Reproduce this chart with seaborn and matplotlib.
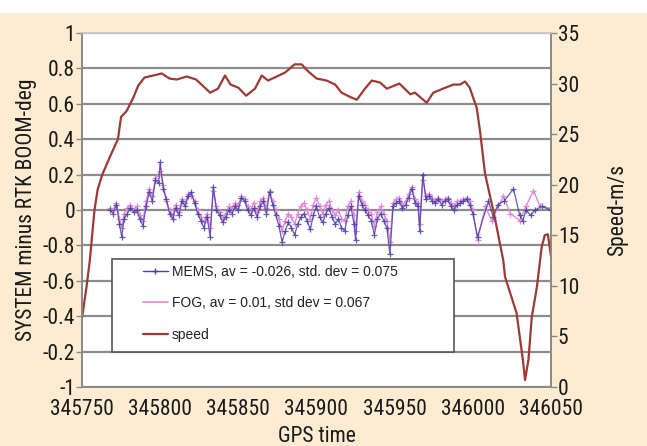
import numpy as np
import pandas as pd
import matplotlib
matplotlib.use("Agg")
import matplotlib.pyplot as plt
import seaborn as sns
from matplotlib import font_manager as fm
from matplotlib.lines import Line2D
from matplotlib.patches import Rectangle

# ---------------- data ----------------
speed_t = [345750, 345753, 345755, 345758, 345760, 345763, 345768, 345773, 345775, 345778.6,
           345782.8, 345786, 345790, 345795.6, 345801, 345806, 345810.6, 345817, 345823, 345832,
           345837, 345841.5, 345845, 345850, 345855, 345860.7, 345865, 345869, 345874.6, 345880,
           345886, 345890.6, 345894, 345900, 345906.5, 345912, 345916, 345922.6, 345925.8, 345931,
           345935.4, 345940.7, 345945, 345953, 345960, 345963, 345970.5, 345974.7, 345981, 345987.5,
           345991.8, 345995, 345998, 346002.5, 346004.6, 346007.8, 346014, 346019.5, 346020.6, 346028,
           346032, 346033.4, 346035.6, 346037.7, 346041, 346044, 346046, 346048, 346050]
speed_v = [6.8, 10.0, 12.5, 17.5, 19.5, 21.0, 22.8, 24.5, 26.7, 27.3,
           28.6, 29.8, 30.6, 30.8, 31.0, 30.5, 30.4, 30.7, 30.4, 29.1,
           29.5, 30.8, 29.9, 29.6, 28.8, 29.5, 30.8, 30.3, 30.7, 31.1,
           31.9, 31.9, 31.3, 30.5, 30.3, 29.9, 29.1, 28.6, 28.4, 29.5,
           30.3, 30.1, 29.5, 30.0, 28.95, 29.1, 28.1, 29.1, 29.5, 29.9,
           29.9, 30.2, 29.6, 27.6, 25.3, 21.1, 16.8, 12.5, 10.9, 7.3,
           2.7, 0.7, 2.7, 6.9, 9.9, 13.8, 15.0, 15.1, 12.9]

mems_t = [345768, 345770, 345772, 345774, 345775.4, 345777, 345779, 345781, 345783, 345785,
          345787, 345789, 345791, 345793, 345795, 345797, 345799, 345800, 345802, 345804,
          345806, 345808, 345810, 345812, 345814, 345816, 345818, 345820, 345822, 345824,
          345826, 345828, 345830, 345832, 345834, 345836, 345838, 345840, 345842, 345844,
          345846, 345848, 345850, 345852, 345854, 345856, 345858, 345860, 345862, 345864,
          345866, 345868, 345870, 345872, 345874, 345876, 345878, 345880, 345882, 345884,
          345886, 345888, 345890, 345892, 345894, 345896, 345898, 345900, 345902, 345904,
          345906, 345908, 345910, 345912, 345914, 345916, 345918, 345920, 345922, 345924,
          345925, 345927, 345929, 345931, 345933, 345935, 345937, 345939, 345941, 345943,
          345945, 345947, 345949, 345951, 345953, 345955, 345957, 345959, 345961, 345963,
          345965, 345966, 345968, 345970, 345972, 345974, 345976, 345978, 345980, 345982,
          345984, 345986, 345988, 345990, 345992, 345994, 345996, 345998, 346000, 346003,
          346010, 346013, 346016, 346020, 346026, 346030, 346032, 346034, 346037, 346040,
          346044, 346050]
mems_v = [0.0, -0.02, 0.03, -0.08, -0.15, -0.05, -0.02, 0.01, -0.01, 0.0,
          -0.05, -0.09, 0.02, 0.1, 0.05, 0.17, 0.15, 0.27, 0.12, 0.06,
          -0.02, -0.05, 0.01, -0.03, 0.05, 0.02, 0.08, 0.1, 0.04, -0.02,
          -0.06, -0.1, -0.04, -0.15, 0.13, 0.0, -0.03, -0.07, -0.04, 0.0,
          -0.02, 0.02, 0.0, 0.07, 0.05, 0.0, -0.03, 0.01, -0.04, 0.02,
          0.05, -0.02, 0.1, 0.03, -0.03, -0.09, -0.18, -0.12, -0.07, -0.1,
          -0.14, -0.08, -0.04, -0.02, -0.06, -0.11, -0.03, 0.02, -0.04, -0.07,
          -0.02, 0.01, -0.04, -0.08, -0.05, -0.1, -0.12, -0.03, 0.02, -0.08,
          -0.17, 0.08, 0.03, 0.0, -0.03, -0.06, -0.14, -0.05, -0.02, -0.06,
          -0.1, -0.25, 0.02, 0.04, 0.05, 0.01, 0.03, 0.07, 0.12, 0.04,
          0.02, -0.12, 0.2, 0.06, 0.08, 0.05, 0.04, 0.06, 0.03, 0.05,
          0.06, 0.02, 0.0, 0.03, 0.04, 0.05, 0.06, 0.03, -0.02, -0.15,
          0.05, -0.04, 0.03, 0.05, 0.12, -0.03, -0.06, 0.0, -0.03, 0.0,
          0.02, 0.0]

fog_t = [345768, 345770, 345772, 345774, 345775.4, 345777, 345779, 345781, 345783, 345785,
         345787, 345789, 345791, 345793, 345795, 345797, 345799, 345800, 345802, 345804,
         345806, 345808, 345810, 345812, 345814, 345816, 345818, 345820, 345822, 345824,
         345826, 345828, 345830, 345832, 345834, 345836, 345838, 345840, 345842, 345844,
         345846, 345848, 345850, 345852, 345854, 345856, 345858, 345860, 345862, 345864,
         345866, 345868, 345870, 345872, 345874, 345876, 345878, 345880, 345882, 345884,
         345886, 345888, 345890, 345892, 345894, 345896, 345898, 345900, 345902, 345904,
         345906, 345908, 345910, 345912, 345914, 345916, 345918, 345920, 345922, 345924,
         345925, 345927, 345929, 345931, 345933, 345935, 345937, 345939, 345941, 345943,
         345945, 345947, 345949, 345951, 345953, 345955, 345957, 345959, 345961, 345963,
         345965, 345966, 345968, 345970, 345972, 345974, 345976, 345978, 345980, 345982,
         345984, 345986, 345988, 345990, 345992, 345994, 345996, 345998, 346000, 346003,
         346008, 346012, 346019.6, 346024, 346030, 346034, 346038.8, 346043, 346050]
fog_v = [0.01, 0.0, 0.04, -0.05, -0.1, -0.02, 0.01, 0.03, 0.0, 0.02,
         -0.03, -0.06, 0.05, 0.12, 0.08, 0.18, 0.2, 0.22, 0.14, 0.05,
         0.0, -0.03, 0.03, -0.01, 0.06, 0.04, 0.09, 0.08, 0.05, 0.0,
         -0.04, -0.07, -0.02, -0.1, 0.11, 0.02, -0.01, -0.05, -0.02, 0.02,
         0.01, 0.04, 0.03, 0.08, 0.06, 0.02, 0.0, 0.04, -0.01, 0.05,
         0.07, 0.01, 0.11, 0.05, 0.0, -0.05, -0.12, -0.06, -0.02, -0.04,
         -0.08, -0.02, 0.02, 0.04, 0.0, -0.05, 0.03, 0.07, 0.02, -0.02,
         0.03, 0.05, 0.0, -0.03, 0.0, -0.05, -0.06, 0.02, 0.05, -0.03,
         -0.12, 0.1, 0.05, 0.03, 0.0, -0.02, -0.09, -0.01, 0.02, -0.02,
         -0.06, -0.18, 0.04, 0.06, 0.07, 0.03, 0.05, 0.09, 0.13, 0.06,
         0.04, -0.08, 0.17, 0.08, 0.09, 0.07, 0.05, 0.07, 0.05, 0.06,
         0.07, 0.04, 0.02, 0.05, 0.05, 0.06, 0.07, 0.05, 0.0, -0.17,
         0.02, -0.06, 0.08, -0.02, -0.06, 0.02, 0.11, 0.02, 0.01]

x_ticks = [345750, 345800, 345850, 345900, 345950, 346000, 346050]
left_ticks = [-1.0, -0.8, -0.6, -0.4, -0.2, 0.0, 0.2, 0.4, 0.6, 0.8, 1.0]
left_labels = ["-1", "-0.2", "-0.4", "-0.6", "-0.8", "0", "0.2", "0.4", "0.6", "0.8", "1"]
right_ticks = [0, 5, 10, 15, 20, 25, 30, 35]

labels = ["MEMS, av = -0.026, std. dev = 0.075",
          "FOG, av = 0.01, std dev = 0.067",
          "speed"]

# ---------------- style ----------------
BG = "#fdecd1"
C_MEMS = "#4b40a6"
C_FOG = "#e28ad8"
C_SPEED = "#9c3a36"
GRID = "#8c8c8c"
TXT = "#1a1a1a"

sns.set_style("white")

# pick a condensed face if one is installed
ttf = fm.fontManager.ttflist
family, stretch, FS = "Roboto", "normal", 13.5
for name, st, size in [("Liberation Sans Narrow", "normal", 15.5),
                       ("Roboto Condensed", "normal", 15.5),
                       ("DejaVu Sans", "condensed", 14.5)]:
    if any(f.name == name and (st == "normal" or str(f.stretch) == "condensed") for f in ttf):
        family, stretch, FS = name, st, size
        break
plt.rcParams["font.family"] = [family, "DejaVu Sans"]
plt.rcParams["font.stretch"] = stretch

fig = plt.figure(figsize=(6.47, 4.46), dpi=100, facecolor=BG)
fig.patches.append(Rectangle((0, 0.971), 1, 0.03, transform=fig.transFigure,
                             facecolor="white", edgecolor="none", zorder=0))
ax = fig.add_axes([0.1267, 0.1323, 0.7249, 0.7937])
ax.set_facecolor("white")
ax2 = ax.twinx()
ax2.set_zorder(ax.get_zorder() + 1)
ax2.patch.set_visible(False)

df_m = pd.DataFrame({"t": mems_t, "v": mems_v})
df_f = pd.DataFrame({"t": fog_t, "v": fog_v})
df_s = pd.DataFrame({"t": speed_t, "v": speed_v})

sns.lineplot(data=df_f, x="t", y="v", ax=ax, color=C_FOG, lw=1.0, marker="+",
             markersize=4, markeredgewidth=0.9, markeredgecolor=C_FOG,
             estimator=None, sort=False, legend=False, zorder=3)
sns.lineplot(data=df_m, x="t", y="v", ax=ax, color=C_MEMS, lw=0.9, marker="+",
             markersize=4, markeredgewidth=0.9, markeredgecolor=C_MEMS,
             estimator=None, sort=False, legend=False, zorder=4, alpha=0.85)
sns.lineplot(data=df_s, x="t", y="v", ax=ax2, color=C_SPEED, lw=1.6,
             estimator=None, sort=False, legend=False)

ax.set_xlim(345750, 346050)
ax.set_ylim(-1, 1)
ax.set_xticks(x_ticks)
ax.set_xticklabels([str(v) for v in x_ticks])
ax.set_yticks(left_ticks)
ax.set_yticklabels(left_labels)
ax.yaxis.grid(True, color=GRID, lw=1.6)
ax.xaxis.grid(False)
ax.set_axisbelow(True)

ax2.set_ylim(0, 35)
ax2.set_yticks(right_ticks)
ax2.set_yticklabels([str(v) for v in right_ticks])

for a in (ax, ax2):
    for s in a.spines.values():
        s.set_color("#8a8a8a")
        s.set_linewidth(1.2)
    a.spines["top"].set_color("#c8c8c8")

ax.tick_params(axis="both", labelsize=FS, colors="#8a8a8a", labelcolor=TXT,
               length=4, width=1, pad=1)
ax.tick_params(axis="x", length=3, pad=6)
ax2.tick_params(axis="y", labelsize=FS, colors="#8a8a8a", labelcolor=TXT,
                length=4, width=1, pad=1)

ax.set_xlabel("GPS time", fontsize=FS, color=TXT, labelpad=4)
ax.set_ylabel("SYSTEM minus RTK BOOM-deg", fontsize=FS, color=TXT, labelpad=4)
ax2.set_ylabel("Speed-m/s", fontsize=FS, color=TXT, labelpad=20)

# legend box and legend
box = Rectangle((0.064, 0.099), 0.729, 0.263, transform=ax2.transAxes,
                facecolor="white", edgecolor="#555555", lw=1.2, zorder=5)
ax2.add_patch(box)
handles = [Line2D([], [], color=C_MEMS, lw=1.0, marker="+", markersize=4),
           Line2D([], [], color=C_FOG, lw=1.2),
           Line2D([], [], color=C_SPEED, lw=1.6)]
leg = ax2.legend(handles, labels, loc="upper left", bbox_to_anchor=(0.13, 0.345),
                 frameon=False,
                 prop={"family": "Liberation Sans", "size": 10, "stretch": "normal"},
                 handlelength=1.8, handletextpad=0.3, labelspacing=1.25,
                 borderpad=0, borderaxespad=0)
leg.set_zorder(6)
for t in leg.get_texts():
    t.set_color("#222222")

fig.savefig("out.png", dpi=100, facecolor=BG)
